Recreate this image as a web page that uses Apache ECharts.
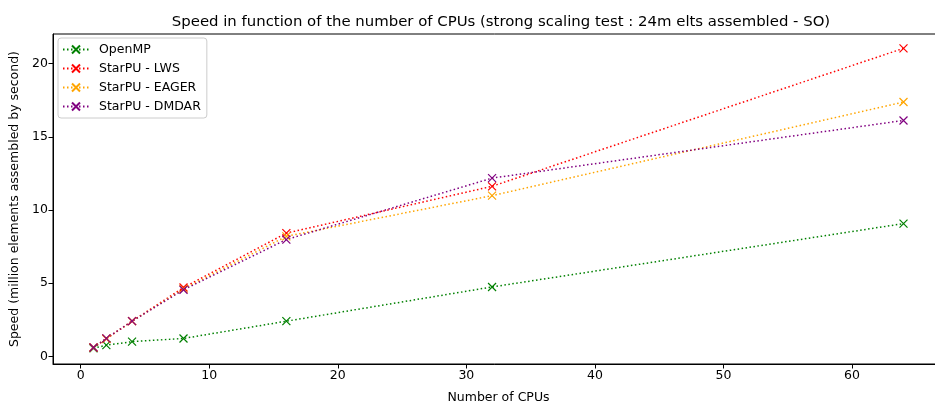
<!DOCTYPE html>
<html>
<head>
<meta charset="utf-8" />
<title>Speed vs CPUs</title>
<script src="https://cdn.jsdelivr.net/npm/echarts@6/dist/echarts.min.js"></script>
<style>
  html, body { margin: 0; padding: 0; background: #fff; }
  #main { width: 935px; height: 403px; }
</style>
</head>
<body>
<div id="main"></div>
<script type="text/javascript">
var cpus = [1, 2, 4, 8, 16, 32, 64];
var openmp = [0.55, 0.76, 1.0, 1.22, 2.4, 4.74, 9.07];
var lws = [0.6, 1.2, 2.4, 4.7, 8.42, 11.62, 21.05];
var eager = [0.6, 1.2, 2.4, 4.6, 8.2, 10.98, 17.38];
var dmdar = [0.6, 1.23, 2.4, 4.55, 7.98, 12.18, 16.12];
var xTicks = [0, 10, 20, 30, 40, 50, 60];
var yTicks = [0, 5, 10, 15, 20];

var font = 'DejaVu Sans';
var xMark = 'path://M0,0L10,10M10,0L0,10';

function pairs(ys) {
  return cpus.map(function (c, i) { return [c, ys[i]]; });
}

function serie(name, ys, color) {
  return {
    name: name,
    type: 'line',
    data: pairs(ys),
    symbol: xMark,
    symbolSize: 8,
    showSymbol: true,
    lineStyle: { color: color, width: 1.5, type: [1.5, 2.5] },
    itemStyle: { color: color, borderColor: color, borderWidth: 1.2 },
    emphasis: { disabled: true },
    animation: false
  };
}

var chart = echarts.init(document.getElementById('main'));
chart.setOption({
  backgroundColor: '#fff',
  textStyle: { fontFamily: font },
  title: {
    text: 'Speed in function of the number of CPUs (strong scaling test : 24m elts assembled - SO)',
    left: 496,
    textAlign: 'center',
    top: 10,
    textStyle: { fontFamily: font, fontSize: 14.9, fontWeight: 'normal', color: '#000' }
  },
  legend: {
    orient: 'vertical',
    left: 58,
    top: 38,
    padding: [5, 6, 5, 4],
    itemGap: 6,
    itemWidth: 26,
    itemHeight: 10,
    borderColor: '#ccc',
    borderWidth: 1,
    borderRadius: 3,
    backgroundColor: '#fff',
    textStyle: { fontFamily: font, fontSize: 12.5, lineHeight: 13, color: '#000', padding: [0, 0, 0, 5] },
    data: ['OpenMP', 'StarPU - LWS', 'StarPU - EAGER', 'StarPU - DMDAR']
  },
  grid: {
    left: 53, top: 34, width: 891, height: 330,
    outerBoundsMode: 'none',
    containLabel: false,
    show: true, borderColor: '#000', borderWidth: 1, backgroundColor: 'transparent'
  },
  xAxis: {
    type: 'value',
    min: -2.15,
    max: 67.15,
    name: 'Number of CPUs',
    nameLocation: 'middle',
    nameGap: 27,
    nameTextStyle: { fontFamily: font, fontSize: 12.5, color: '#000' },
    axisLine: { show: true, onZero: false, lineStyle: { color: '#000' } },
    axisTick: { show: true, inside: false, length: 4.5, customValues: xTicks, lineStyle: { color: '#000' } },
    axisLabel: { customValues: xTicks, fontFamily: font, fontSize: 12.5, color: '#000', margin: 5 },
    splitLine: { show: false }
  },
  yAxis: {
    type: 'value',
    min: -0.526,
    max: 22.03,
    name: 'Speed (million elements assembled by second)',
    nameLocation: 'middle',
    nameGap: 30,
    nameTextStyle: { fontFamily: font, fontSize: 12.5, color: '#000' },
    axisLine: { show: true, onZero: false, lineStyle: { color: '#000' } },
    axisTick: { show: true, inside: false, length: 4.5, customValues: yTicks, lineStyle: { color: '#000' } },
    axisLabel: { customValues: yTicks, fontFamily: font, fontSize: 12.5, color: '#000', margin: 5 },
    splitLine: { show: false }
  },
  series: [
    serie('OpenMP', openmp, '#008000'),
    serie('StarPU - LWS', lws, '#ff0000'),
    serie('StarPU - EAGER', eager, '#ffa500'),
    serie('StarPU - DMDAR', dmdar, '#800080')
  ]
});
</script>
</body>
</html>
